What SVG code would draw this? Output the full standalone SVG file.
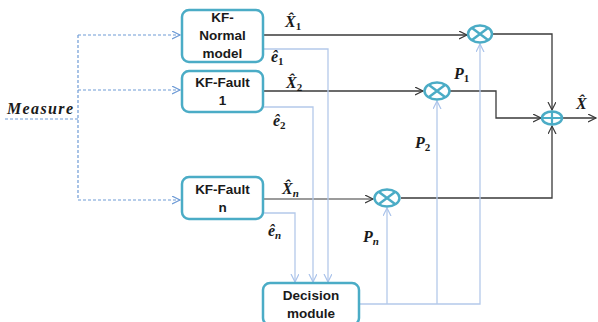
<svg xmlns="http://www.w3.org/2000/svg" width="598" height="322" viewBox="0 0 598 322">
<style>
.box{fill:#fff;stroke:#4bacc6;stroke-width:2.5}
.bt{font-family:"Liberation Sans",Arial,sans-serif;font-weight:bold;font-size:13.5px;fill:#1a1a1a;text-anchor:middle}
.m{font-family:"Liberation Serif","DejaVu Serif",serif;font-weight:bold;font-style:italic;font-size:16px;fill:#1a1a1a}
.sub{font-size:11px}
.up{font-style:normal}
.dash{fill:none;stroke:#6e9bd6;stroke-width:1.2;stroke-dasharray:3,2}
.dark{fill:none;stroke:#3a3a3a;stroke-width:1.3}
.gray{fill:none;stroke:#7a7a7a;stroke-width:1.6}
.lb{fill:none;stroke:#b4c9ea;stroke-width:1.3}
.op{fill:#fff;stroke:#4bacc6;stroke-width:2.5}
</style>
<defs>
<marker id="ad" markerUnits="userSpaceOnUse" markerWidth="10" markerHeight="10" refX="8" refY="4" orient="auto"><path d="M0,0 L8,4 L0,8" fill="none" stroke="#6e9bd6" stroke-width="1.2"/></marker>
<marker id="ak" markerUnits="userSpaceOnUse" markerWidth="10" markerHeight="10" refX="8" refY="4" orient="auto"><path d="M0,0 L8,4 L0,8" fill="none" stroke="#3a3a3a" stroke-width="1.2"/></marker>
<marker id="al" markerUnits="userSpaceOnUse" markerWidth="10" markerHeight="10" refX="8" refY="4" orient="auto"><path d="M0,0 L8,4 L0,8" fill="none" stroke="#a9c2ea" stroke-width="1.2"/></marker>
</defs>
<rect width="598" height="322" fill="#fff"/>

<g id="connectors">
<path class="dash" d="M5,119 H78"/>
<path class="dash" d="M78,35 V200"/>
<path class="dash" d="M78,35 H180" marker-end="url(#ad)"/>
<path class="dash" d="M78,90 H180" marker-end="url(#ad)"/>
<path class="dash" d="M78,200 H180" marker-end="url(#ad)"/>

<path class="dark" d="M264,35 H467" marker-end="url(#ak)"/>
<path class="dark" d="M264,91 H423" marker-end="url(#ak)"/>
<path class="gray" d="M264,199 H373" marker-end="url(#ak)"/>
<path class="dark" d="M493,34 H552 V110" marker-end="url(#ak)"/>
<path class="dark" d="M450,91 H496 V118 H541" marker-end="url(#ak)"/>
<path class="dark" d="M401,198 H552 V126" marker-end="url(#ak)"/>
<path class="dark" d="M563,118 H596" marker-end="url(#ak)"/>

<path class="lb" d="M264,49 H328 V282" marker-end="url(#al)"/>
<path class="lb" d="M264,107 H313 V282" marker-end="url(#al)"/>
<path class="lb" d="M264,213 H295 V282" marker-end="url(#al)"/>
<path class="lb" d="M360,304 H480 V44" marker-end="url(#al)"/>
<path class="lb" d="M387,304 V208" marker-end="url(#al)"/>
<path class="lb" d="M437,304 V101" marker-end="url(#al)"/>
</g>

<g id="measure"><text class="m" x="7" y="114" font-size="17" textLength="66">Measure</text></g>

<g id="kf-normal">
<rect class="box" x="182" y="10" width="81" height="52" rx="7"/>
<text class="bt" x="222.5" y="22">KF-</text>
<text class="bt" x="222.5" y="40">Normal</text>
<text class="bt" x="222.5" y="58">model</text>
</g>
<g id="kf-fault1">
<rect class="box" x="182" y="71" width="81" height="41" rx="7"/>
<text class="bt" x="222.5" y="87">KF-Fault</text>
<text class="bt" x="222.5" y="105">1</text>
</g>
<g id="kf-faultn">
<rect class="box" x="182" y="177" width="81" height="42" rx="7"/>
<text class="bt" x="222.5" y="194">KF-Fault</text>
<text class="bt" x="222.5" y="212">n</text>
</g>
<g id="decision">
<rect class="box" x="263" y="283" width="96" height="42" rx="7"/>
<text class="bt" x="311" y="300">Decision</text>
<text class="bt" x="311" y="318">module</text>
</g>

<g id="mult1"><ellipse class="op" cx="480" cy="34" rx="12" ry="8.5"/><path d="M472,28 L488,40 M488,28 L472,40" stroke="#4bacc6" stroke-width="2.5"/></g>
<g id="mult2"><ellipse class="op" cx="437" cy="91" rx="12.5" ry="8.5"/><path d="M429,85 L445,97 M445,85 L429,97" stroke="#4bacc6" stroke-width="2.5"/></g>
<g id="multn"><ellipse class="op" cx="387" cy="198" rx="12.5" ry="8.5"/><path d="M379,192 L395,204 M395,192 L379,204" stroke="#4bacc6" stroke-width="2.5"/></g>
<g id="sum"><ellipse class="op" cx="552" cy="118" rx="10" ry="6.5"/><path d="M542,118 H562 M552,111.5 V124.5" stroke="#4bacc6" stroke-width="2.2"/></g>

<g id="labels">
<text class="m" x="285" y="27">X̂<tspan class="sub up" dy="3">1</tspan></text>
<text class="m" x="271" y="62">ê<tspan class="sub up" dy="3">1</tspan></text>
<text class="m" x="286" y="88">X̂<tspan class="sub up" dy="3">2</tspan></text>
<text class="m" x="273" y="126">ê<tspan class="sub up" dy="3">2</tspan></text>
<text class="m" x="282" y="194">X̂<tspan class="sub" dy="3">n</tspan></text>
<text class="m" x="268" y="236">ê<tspan class="sub" dy="3">n</tspan></text>
<text class="m" x="454" y="79">P<tspan class="sub up" dy="3">1</tspan></text>
<text class="m" x="415" y="148">P<tspan class="sub up" dy="3">2</tspan></text>
<text class="m" x="363" y="242">P<tspan class="sub" dy="3">n</tspan></text>
<text class="m" x="576" y="109">X̂</text>
</g>
</svg>
